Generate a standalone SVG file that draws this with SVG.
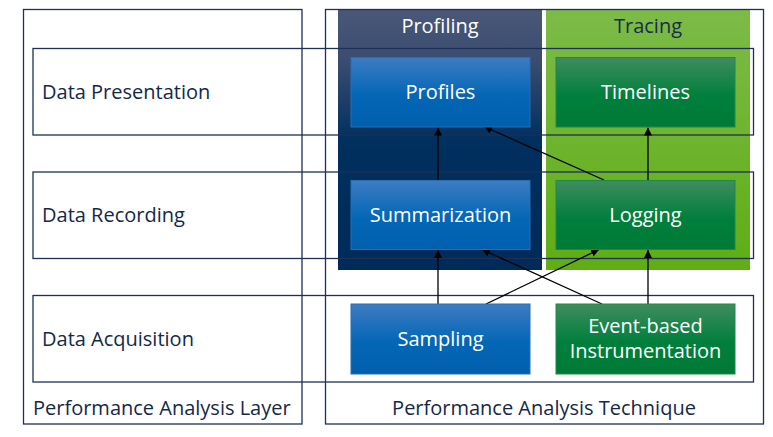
<svg xmlns="http://www.w3.org/2000/svg" width="773" height="437" viewBox="0 0 773 437">
  <style>
    .frame { fill: none; stroke: #1c3158; stroke-width: 1.3; }
    .lbl { font-family: "Open Sans", "Noto Sans", sans-serif; font-size: 20px; fill: #14284a; }
    .ntxt { font-family: "Open Sans", "Noto Sans", sans-serif; font-size: 20px; fill: #ffffff; text-anchor: middle; }
    .blue { fill: url(#gBlue); stroke: #2a6db5; stroke-width: 1; }
    .green { fill: url(#gGreen); stroke: #1e8a4a; stroke-width: 1; }
    .edge { stroke: #000; stroke-width: 1.3; fill: none; marker-end: url(#arr); }
  </style>
  <defs>
    <linearGradient id="gProf" x1="0" y1="0" x2="0" y2="1">
      <stop offset="0" stop-color="#4a5878"/>
      <stop offset="0.2" stop-color="#3a4c70"/>
      <stop offset="0.5" stop-color="#00305f"/>
      <stop offset="1" stop-color="#002a5a"/>
    </linearGradient>
    <linearGradient id="gTrac" x1="0" y1="0" x2="0" y2="1">
      <stop offset="0" stop-color="#7cbb48"/>
      <stop offset="1" stop-color="#60ad14"/>
    </linearGradient>
    <linearGradient id="gBlue" x1="0" y1="0" x2="0" y2="1">
      <stop offset="0" stop-color="#3d7cc2"/>
      <stop offset="0.55" stop-color="#0466b6"/>
      <stop offset="1" stop-color="#0060ae"/>
    </linearGradient>
    <linearGradient id="gGreen" x1="0" y1="0" x2="0" y2="1">
      <stop offset="0" stop-color="#408c5e"/>
      <stop offset="0.55" stop-color="#007f3c"/>
      <stop offset="1" stop-color="#007a36"/>
    </linearGradient>
    <marker id="arr" viewBox="0 0 10 10" refX="10" refY="5" markerWidth="8" markerHeight="8" markerUnits="userSpaceOnUse" orient="auto">
      <path d="M0,0 L10,5 L0,10 z" fill="#000"/>
    </marker>
  </defs>

  <!-- technique columns -->
  <g id="col-profiling">
    <rect x="338" y="9" width="204" height="261" fill="url(#gProf)"/>
    <text x="440" y="33" class="ntxt">Profiling</text>
  </g>
  <g id="col-tracing">
    <rect x="546" y="9" width="204" height="261" fill="url(#gTrac)"/>
    <text x="648" y="33" class="ntxt" style="fill:#1b2c4c">Tracing</text>
  </g>

  <!-- outer frames -->
  <g id="layer-frame">
    <rect x="23.5" y="9.5" width="278.5" height="414.5" class="frame"/>
    <text x="33" y="415" class="lbl">Performance Analysis Layer</text>
  </g>
  <g id="technique-frame">
    <rect x="325.5" y="9.5" width="438" height="414.5" class="frame"/>
    <text x="544" y="415" class="lbl" text-anchor="middle">Performance Analysis Technique</text>
  </g>

  <!-- layer rows -->
  <g id="row-presentation">
    <rect x="33" y="48.5" width="720.5" height="86.5" class="frame"/>
    <text x="42" y="99" class="lbl">Data Presentation</text>
  </g>
  <g id="row-recording">
    <rect x="33" y="172" width="720.5" height="86.5" class="frame"/>
    <text x="42" y="222" class="lbl">Data Recording</text>
  </g>
  <g id="row-acquisition">
    <rect x="33" y="295.5" width="720.5" height="86.5" class="frame"/>
    <text x="42" y="346" class="lbl">Data Acquisition</text>
  </g>

  <!-- connectors -->
  <g id="connectors">
    <line x1="438" y1="180" x2="438" y2="127.5" class="edge"/>
    <line x1="604" y1="180" x2="484" y2="126.5" class="edge"/>
    <line x1="648" y1="180" x2="648" y2="127.5" class="edge"/>
    <line x1="438" y1="304" x2="438" y2="250" class="edge"/>
    <line x1="486" y1="304" x2="599" y2="249.5" class="edge"/>
    <line x1="602" y1="304" x2="482" y2="249.5" class="edge"/>
    <line x1="648" y1="304" x2="648" y2="250" class="edge"/>
  </g>

  <!-- technique nodes -->
  <g id="profiles">
    <rect x="351" y="57.5" width="179" height="69.5" class="blue"/>
    <text x="440.5" y="99" class="ntxt">Profiles</text>
  </g>
  <g id="timelines">
    <rect x="556" y="57.5" width="179" height="69.5" class="green"/>
    <text x="645.5" y="99" class="ntxt">Timelines</text>
  </g>
  <g id="summarization">
    <rect x="351" y="180.5" width="179" height="69" class="blue"/>
    <text x="440.5" y="222" class="ntxt">Summarization</text>
  </g>
  <g id="logging">
    <rect x="556" y="180.5" width="179" height="69" class="green"/>
    <text x="645.5" y="222" class="ntxt">Logging</text>
  </g>
  <g id="sampling">
    <rect x="351" y="304" width="179" height="70" class="blue"/>
    <text x="440.5" y="346" class="ntxt">Sampling</text>
  </g>
  <g id="event-instrumentation">
    <rect x="556" y="304" width="179" height="70" class="green"/>
    <text x="645.5" y="333" class="ntxt">Event-based</text>
    <text x="645.5" y="358" class="ntxt">Instrumentation</text>
  </g>
</svg>
